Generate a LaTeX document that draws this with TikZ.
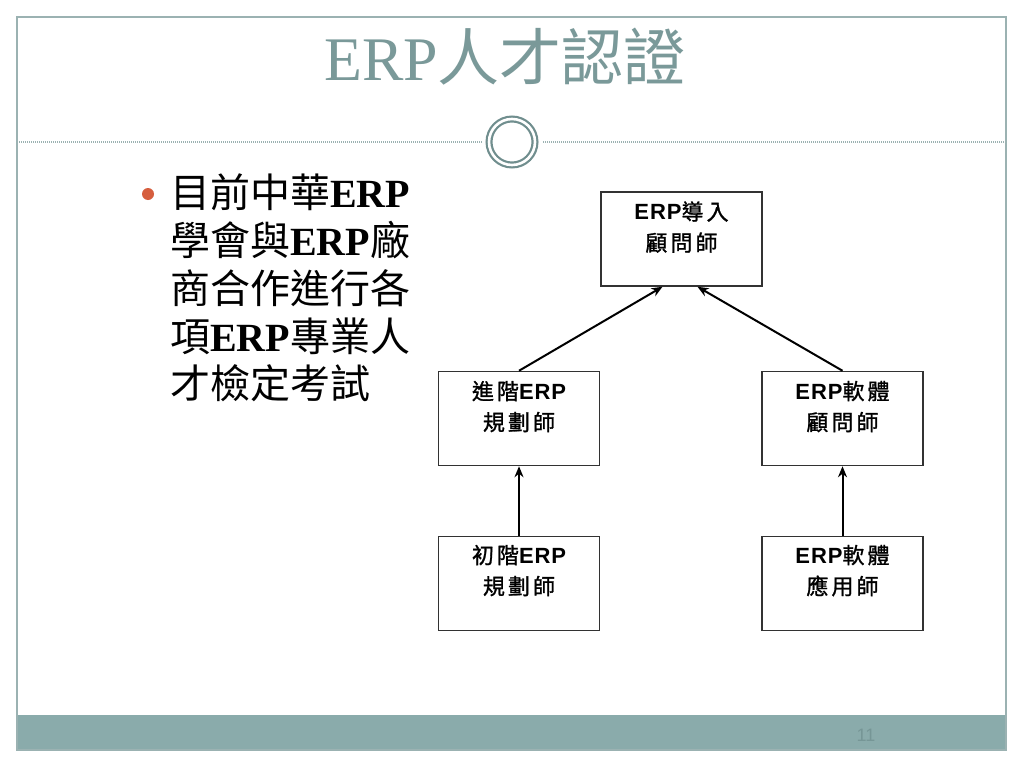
\documentclass[tikz,border=0pt]{standalone}
\usepackage{fontspec}
\setmainfont{Liberation Serif}
\newfontfamily\cjk{Noto Sans CJK TC}
\newfontfamily\cjkbox{Noto Sans CJK TC}[LetterSpace=14, FakeBold=1.2]
\newfontfamily\arialf{Liberation Sans}[LetterSpace=4]
\newfontfamily\numfont{Liberation Sans}
\usetikzlibrary{arrows.meta}
\definecolor{titlecol}{RGB}{122,153,153}
\definecolor{framecol}{RGB}{155,178,178}
\definecolor{bandcol}{RGB}{138,171,171}
\definecolor{circcol}{RGB}{112,142,142}
\definecolor{bulletcol}{RGB}{214,94,62}
\definecolor{numcol}{RGB}{118,150,150}
\definecolor{boxline}{RGB}{50,50,50}
\tikzset{
  titletext/.style={anchor=base, inner sep=0pt, text=titlecol, font=\fontsize{62}{62}\selectfont},
  bodytext/.style={anchor=base west, inner sep=0pt, text=black, font=\fontsize{40}{40}\selectfont},
  rolebox/.style={draw=boxline, line width=1.5pt, minimum width=161pt, minimum height=94pt, inner sep=0pt},
  roletext/.style={anchor=north, inner sep=0pt, align=center, font=\fontsize{22}{31}\selectfont},
  link/.style={line width=2pt, -{Stealth[length=11pt,width=9pt]}},
  dotline/.style={draw=framecol, line width=1.4pt, dash pattern=on 1pt off 1pt},
}
\newcommand{\erpb}{{\arialf\bfseries\fontsize{22}{22}\selectfont ERP}}
\begin{document}
\begin{tikzpicture}[x=1pt,y=-1pt]
\useasboundingbox (0,0) rectangle (1024,768);
\fill[white] (0,0) rectangle (1024,768);
% frame and footer band
\fill[bandcol] (17,715) rectangle (1006,750);
\draw[framecol, line width=1.2pt] (17,17) rectangle (1006,750);
% title
\node[titletext] (title) at (505,80) {ERP{\cjk 人才認證}};
% separator with ring
\coordinate (fl) at (17,142);
\coordinate (fr) at (1006,142);
\node[circle, draw=circcol, line width=2.2pt, double=white, double distance=2.6pt, minimum size=46pt, inner sep=0pt] (ring) at (512,142) {};
\draw[dotline, shorten >=6pt] (fl) -- (ring.west);
\draw[dotline, shorten >=6pt] (fr) -- (ring.east);
% bullet text
\node[circle, fill=bulletcol, minimum size=12pt, inner sep=0pt] (dot) at (148,194) {};
\node[bodytext] (l1) at (170,207) {{\cjk 目前中華}\textbf{ERP}};
\node[bodytext] (l2) at (170,255) {{\cjk 學會與}\textbf{ERP}{\cjk 廠}};
\node[bodytext] (l3) at (170,303) {{\cjk 商合作進行各}};
\node[bodytext] (l4) at (170,351) {{\cjk 項}\textbf{ERP}{\cjk 專業人}};
\node[bodytext] (l5) at (170,398) {{\cjk 才檢定考試}};
% hierarchy boxes
\node[rolebox] (top) at (681.5,239) {};
\node[rolebox] (ml) at (519,418.5) {};
\node[rolebox] (mr) at (842.5,418.5) {};
\node[rolebox] (bl) at (519,583.5) {};
\node[rolebox] (br) at (842.5,583.5) {};
\node[roletext] (topt) at ([yshift=-10pt]top.north) {\erpb{\cjkbox 導入}\\{\cjkbox 顧問師}};
\node[roletext] (mlt) at ([yshift=-10pt]ml.north) {{\cjkbox 進階}\erpb\\{\cjkbox 規劃師}};
\node[roletext] (mrt) at ([yshift=-10pt]mr.north) {\erpb{\cjkbox 軟體}\\{\cjkbox 顧問師}};
\node[roletext] (blt) at ([yshift=-9pt]bl.north) {{\cjkbox 初階}\erpb\\{\cjkbox 規劃師}};
\node[roletext] (brt) at ([yshift=-9pt]br.north) {\erpb{\cjkbox 軟體}\\{\cjkbox 應用師}};
% connectors
\draw[link] (ml.north) -- ([xshift=-19pt]top.south);
\draw[link] (mr.north) -- ([xshift=16pt]top.south);
\draw[link] (bl.north) -- (ml.south);
\draw[link] (br.north) -- (mr.south);
% page number
\node[inner sep=0pt, text=numcol, font=\numfont\fontsize{18}{18}\selectfont] (num) at (866,735) {11};
\end{tikzpicture}
\end{document}
